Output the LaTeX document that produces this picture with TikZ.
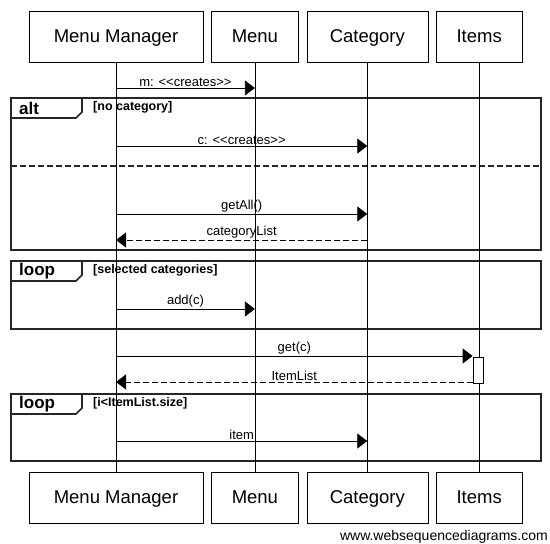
\documentclass[tikz,border=0pt]{standalone}
\usepackage{fontspec}
\setmainfont{Liberation Sans}
\usetikzlibrary{positioning, arrows.meta}

\begin{document}
\begin{tikzpicture}[
    x=1pt, y=-1pt,
    font=\fontsize{13}{15}\selectfont,
    actor/.style={draw, rectangle, minimum height=51pt, inner sep=0pt, text height=14.5pt, text depth=3pt, font=\fontsize{18.5}{22}\selectfont},
    lifeline/.style={draw, line width=0.8pt},
    frame/.style={draw=black!85, line width=1.6pt},
    tag/.style={anchor=west, inner sep=0pt, font=\bfseries\fontsize{17}{20}\selectfont},
    guard/.style={anchor=west, inner sep=0pt, font=\bfseries\fontsize{12.5}{14}\selectfont},
    msg/.style={-{Triangle[length=10pt, width=15pt]}, line width=0.8pt},
    reply/.style={msg, dash pattern=on 6pt off 3pt},
    lbl/.style={above, inner sep=1pt}
]
\useasboundingbox (0,0) rectangle (550,544);

\node[actor, minimum width=174pt] (mm) at (116,36.5) {Menu Manager};
\node[actor, minimum width=87pt, right=8pt of mm] (menu) {Menu};
\node[actor, minimum width=121pt, right=8pt of menu] (cat) {Category};
\node[actor, minimum width=86pt, right=8pt of cat] (items) {Items};

\node[actor, minimum width=174pt, below=410pt of mm] (mmb) {Menu Manager};
\node[actor, minimum width=87pt, below=410pt of menu] (menub) {Menu};
\node[actor, minimum width=121pt, below=410pt of cat] (catb) {Category};
\node[actor, minimum width=86pt, below=410pt of items] (itemsb) {Items};

\draw[frame] (11,98) rectangle (541,250);
\draw[frame] (11,118) -- (76,118) -- (82,112) -- (82,98);
\draw[frame, dash pattern=on 6pt off 3pt] (11,166) -- (541,166);
\node[tag] (alt) at (19,108.5) {alt};
\node[guard] (g1) at (93,107) {[no category]};

\draw[frame] (11,261) rectangle (541,329);
\draw[frame] (11,281) -- (76,281) -- (82,275) -- (82,261);
\node[tag] (loop1) at (19,271.5) {loop};
\node[guard] (g2) at (93,270) {[selected categories]};

\draw[frame] (11,394) rectangle (541,461);
\draw[frame] (11,414) -- (76,414) -- (82,408) -- (82,394);
\node[tag] (loop2) at (19,404.5) {loop};
\node[guard] (g3) at (93,403) {[i<ItemList.size]};

\draw[lifeline] (mm) -- (mmb);
\draw[lifeline] (menu) -- (menub);
\draw[lifeline] (cat) -- (catb);
\draw[lifeline] (items) -- (itemsb);

\node[draw, fill=white, line width=0.8pt, minimum width=10pt, minimum height=26pt, inner sep=0pt] (act) at (478,370) {};

\coordinate (m1a) at (mm |- 0,88);
\coordinate (m1b) at (menu |- 0,88);
\coordinate (m2a) at (mm |- 0,146);
\coordinate (m2b) at (cat |- 0,146);
\coordinate (m3a) at (mm |- 0,214);
\coordinate (m3b) at (cat |- 0,214);
\coordinate (m4a) at (cat |- 0,240);
\coordinate (m4b) at (mm |- 0,240);
\coordinate (m5a) at (mm |- 0,309);
\coordinate (m5b) at (menu |- 0,309);
\coordinate (m6a) at (mm |- 0,356);
\coordinate (m6b) at (act.west |- 0,356);
\coordinate (m7a) at (act.west |- 0,382);
\coordinate (m7b) at (mm |- 0,382);
\coordinate (m8a) at (mm |- 0,441);
\coordinate (m8b) at (cat |- 0,441);

\draw[msg] (m1a) -- node[lbl] {m: <{}<creates>{}>} (m1b);
\draw[msg] (m2a) -- node[lbl] {c: <{}<creates>{}>} (m2b);
\draw[msg] (m3a) -- node[lbl] {getAll()} (m3b);
\draw[reply] (m4a) -- node[lbl] {categoryList} (m4b);
\draw[msg] (m5a) -- node[lbl] {add(c)} (m5b);
\draw[msg] (m6a) -- node[lbl] {get(c)} (m6b);
\draw[reply] (m7a) -- node[lbl] {ItemList} (m7b);
\draw[msg] (m8a) -- node[lbl] {item} (m8b);

\node[anchor=base east, inner sep=0pt, font=\fontsize{14}{16}\selectfont] (site) at (548,540.5) {www.websequencediagrams.com};
\end{tikzpicture}
\end{document}
